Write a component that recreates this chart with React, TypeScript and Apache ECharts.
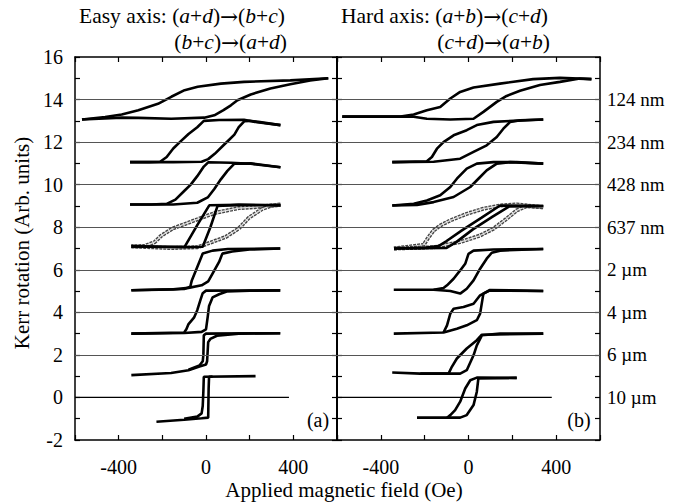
import React, { useEffect, useRef } from 'react';
import * as echarts from 'echarts';

// ---------- tick labels ----------
const xTickLabels = [-400, 0, 400];
const sizeLevels = [0, 2, 4, 6, 8, 10, 12, 14];
const sizeLabels = ['10 µm', '6 µm', '4 µm', '2 µm', '637 nm', '428 nm', '234 nm', '124 nm'];
const gridLevels = [2, 4, 6, 8, 10, 12, 14];
const zeroLine = [[-600, 0], [380, 0]];

// ---------- (a) easy axis loops: [field (Oe), Kerr (arb.)] ----------
const easy124Desc = [[560, 15.0], [386, 14.9], [174, 14.83], [68, 14.75], [-38, 14.6], [-98, 14.44], [-159, 14.13], [-220, 13.8], [-310, 13.5], [-386, 13.3], [-462, 13.18], [-568, 13.06]];
const easy124Asc = [[-568, 13.06], [-386, 13.15], [-310, 13.14], [-159, 13.1], [-8, 13.15], [38, 13.26], [80, 13.5], [114, 13.73], [144, 13.97], [205, 14.24], [295, 14.52], [386, 14.72], [477, 14.9], [560, 15.0]];
const easy234Desc = [[341, 12.8], [235, 12.93], [174, 13.05], [60, 13.04], [-10, 13.0], [-40, 12.7], [-80, 12.38], [-120, 12.0], [-150, 11.7], [-180, 11.3], [-210, 11.08], [-260, 11.06], [-348, 11.06]];
const easy234Asc = [[-348, 11.06], [-150, 11.06], [-20, 11.08], [10, 11.2], [40, 11.45], [80, 11.85], [105, 12.1], [130, 12.35], [150, 12.7], [175, 12.98], [200, 13.0], [240, 12.95], [341, 12.8]];
const easy428Desc = [[341, 10.82], [205, 10.98], [114, 11.03], [10, 11.05], [-10, 10.85], [-40, 10.4], [-70, 10.0], [-100, 9.7], [-140, 9.3], [-180, 9.1], [-250, 9.07], [-348, 9.07]];
const easy428Asc = [[-348, 9.07], [-150, 9.07], [-40, 9.15], [8, 9.4], [38, 9.8], [68, 10.25], [98, 10.65], [129, 10.98], [205, 11.0], [341, 10.82]];
const easy637FilledDesc = [[341, 9.03], [150, 9.05], [15, 9.03], [-40, 8.1], [-98, 7.08], [-200, 7.08], [-342, 7.1]];
const easy637FilledAsc = [[-342, 7.1], [-100, 7.06], [-15, 7.08], [20, 8.0], [53, 9.0], [150, 9.05], [341, 9.03]];
const easy637OpenDesc = [[341, 9.07], [220, 8.94], [150, 8.9], [44, 8.68], [-32, 8.4], [-92, 8.17], [-153, 7.94], [-205, 7.6], [-235, 7.3], [-280, 7.12], [-342, 7.1]];
const easy637OpenAsc = [[-342, 7.1], [-159, 7.02], [-38, 7.06], [0, 7.2], [90, 7.54], [150, 7.94], [197, 8.45], [256, 8.85], [295, 9.0], [341, 9.05]];
const easy2umAsc = [[-342, 5.04], [-150, 5.08], [-80, 5.15], [-20, 5.27], [10, 5.45], [30, 5.82], [60, 6.37], [75, 6.76], [120, 6.86], [200, 6.95], [340, 7.0]];
const easy2umDesc = [[340, 7.0], [100, 6.98], [30, 6.9], [-15, 6.76], [-45, 6.0], [-65, 5.5], [-72, 5.2], [-100, 5.1], [-342, 5.04]];
const easy4umAsc = [[-342, 3.0], [-100, 3.03], [-20, 3.08], [0, 3.2], [8, 3.8], [14, 4.3], [30, 4.7], [60, 4.85], [95, 4.98], [200, 5.02], [340, 5.03]];
const easy4umDesc = [[340, 5.03], [0, 5.02], [-15, 4.9], [-25, 4.6], [-40, 4.1], [-55, 3.75], [-80, 3.45], [-90, 3.2], [-100, 3.05], [-342, 3.0]];
const easy6umAsc = [[-342, 1.05], [-160, 1.15], [-80, 1.28], [-30, 1.45], [0, 1.55], [5, 1.7], [10, 2.6], [20, 2.75], [50, 2.9], [150, 3.0], [340, 3.02]];
const easy6umDesc = [[340, 3.02], [0, 3.0], [-10, 2.92], [-12, 2.0], [-15, 1.7], [-30, 1.5], [-80, 1.3]];
const easy10umAsc = [[-227, -1.14], [-100, -1.05], [-20, -0.98], [10, -0.95], [12, 0.4], [14, 0.97], [30, 0.98]];
const easy10umDesc = [[227, 1.0], [-10, 0.97], [-12, 0.3], [-15, -0.4], [-20, -0.75], [-40, -0.9], [-100, -1.0]];

// ---------- (b) hard axis loops ----------
const hard124Desc = [[561, 14.96], [417, 15.02], [295, 14.96], [144, 14.75], [23, 14.57], [-38, 14.36], [-83, 14.05], [-129, 13.65], [-190, 13.5], [-250, 13.3], [-310, 13.2], [-576, 13.2]];
const hard124Asc = [[-576, 13.2], [-258, 13.2], [-190, 13.1], [-83, 13.06], [23, 13.1], [68, 13.42], [129, 13.89], [174, 14.17], [235, 14.41], [326, 14.68], [417, 14.83], [508, 14.99], [561, 14.96]];
const hard234Desc = [[341, 13.06], [205, 13.0], [114, 12.95], [38, 12.8], [-8, 12.56], [-68, 12.32], [-114, 12.0], [-144, 11.69], [-167, 11.3], [-190, 11.1], [-348, 11.06]];
const hard234Asc = [[-348, 11.06], [-159, 11.08], [-38, 11.22], [23, 11.54], [83, 11.85], [129, 12.24], [159, 12.63], [190, 12.95], [235, 13.03], [341, 13.06]];
const hard428Desc = [[341, 10.99], [220, 11.06], [114, 11.06], [38, 10.99], [-8, 10.75], [-53, 10.28], [-83, 9.89], [-129, 9.5], [-190, 9.26], [-250, 9.1], [-348, 9.02]];
const hard428Asc = [[-348, 9.02], [-235, 9.05], [-159, 9.18], [-68, 9.42], [8, 9.89], [53, 10.36], [83, 10.67], [129, 10.99], [190, 11.06], [341, 10.99]];
const hard637OpenDesc = [[341, 8.94], [220, 9.07], [144, 9.02], [68, 8.87], [-8, 8.63], [-83, 8.32], [-129, 8.08], [-159, 7.85], [-182, 7.53], [-205, 7.17], [-340, 7.0]];
const hard637OpenAsc = [[-340, 7.0], [-159, 7.06], [-38, 7.3], [53, 7.61], [114, 7.93], [174, 8.4], [220, 8.79], [265, 8.99], [341, 8.94]];
const hard637FilledDesc = [[341, 9.0], [144, 9.02], [60, 8.45], [-30, 7.85], [-100, 7.35], [-135, 7.12], [-200, 7.03], [-340, 7.0]];
const hard637FilledAsc = [[-340, 7.0], [-100, 7.03], [-56, 7.3], [20, 7.9], [110, 8.5], [186, 8.98], [341, 9.0]];
const hard2umAsc = [[-341, 5.06], [-159, 5.06], [-83, 5.0], [-38, 4.88], [-8, 5.11], [23, 5.5], [53, 6.05], [83, 6.52], [106, 6.8], [144, 6.9], [341, 6.98]];
const hard2umDesc = [[341, 6.98], [114, 6.95], [23, 6.9], [0, 6.75], [-15, 6.28], [-38, 5.97], [-68, 5.58], [-98, 5.27], [-114, 5.14], [-159, 5.06]];
const hard4umAsc = [[-341, 3.0], [-114, 3.05], [-53, 3.23], [-8, 3.39], [38, 3.63], [53, 3.94], [68, 4.88], [98, 5.03], [341, 5.0]];
const hard4umDesc = [[341, 5.0], [98, 5.05], [53, 4.8], [23, 4.4], [-23, 4.25], [-68, 4.17], [-83, 3.94], [-98, 3.39], [-114, 3.05]];
const hard6umAsc = [[-348, 1.17], [-220, 1.12], [-38, 1.12], [-8, 1.28], [23, 1.98], [38, 2.45], [61, 2.92], [144, 3.0], [341, 3.0]];
const hard6umDesc = [[341, 3.0], [61, 2.95], [38, 2.69], [-8, 2.3], [-53, 1.83], [-76, 1.44], [-91, 1.12], [-220, 1.12]];
const hard10umAsc = [[-235, -0.95], [-38, -0.95], [-8, -0.83], [23, -0.36], [38, 0.27], [45, 0.89], [220, 0.92]];
const hard10umDesc = [[220, 0.92], [38, 0.93], [8, 0.81], [-15, 0.42], [-38, -0.2], [-61, -0.6], [-83, -0.83], [-98, -0.95]];

const easyFilled = [easy124Desc, easy124Asc, easy234Desc, easy234Asc, easy428Desc, easy428Asc, easy637FilledDesc, easy637FilledAsc, easy2umAsc, easy2umDesc, easy4umAsc, easy4umDesc, easy6umAsc, easy6umDesc, easy10umAsc, easy10umDesc];
const easyOpen = [easy637OpenDesc, easy637OpenAsc];
const hardFilled = [hard124Desc, hard124Asc, hard234Desc, hard234Asc, hard428Desc, hard428Asc, hard637FilledDesc, hard637FilledAsc, hard2umAsc, hard2umDesc, hard4umAsc, hard4umDesc, hard6umAsc, hard6umDesc, hard10umAsc, hard10umDesc];
const hardOpen = [hard637OpenDesc, hard637OpenAsc];

const FONT = '"Liberation Serif", "Times New Roman", serif';
const FS = 20;
const FS_SIDE = 19;
const FS_TITLE = 21;
const FS_HEAD = 21.5;

function xAxes(grid: number) {
  const common = {
    gridIndex: grid,
    type: 'value',
    min: -600,
    max: 600,
    interval: 200,
    axisLine: { show: true, onZero: false, lineStyle: { color: '#000', width: 1.5 } },
    axisTick: { show: true, inside: true, length: 5, lineStyle: { color: '#000', width: 1.2 } },
    splitLine: { show: false },
  };
  return [
    {
      ...common,
      position: 'bottom',
      axisLabel: {
        show: true,
        margin: 17,
        color: '#000',
        fontFamily: FONT,
        fontSize: FS,
        formatter: (v: number) => (xTickLabels.includes(v) ? String(v) : ''),
      },
    },
    { ...common, position: 'top', axisLabel: { show: false } },
  ];
}

function yAxis(grid: number, position: string, labels: 'num' | 'size' | 'none', lineWidth: number) {
  return {
    gridIndex: grid,
    type: 'value',
    position,
    min: -2,
    max: 16,
    interval: 2,
    axisLine: { show: true, onZero: false, lineStyle: { color: '#000', width: lineWidth } },
    axisTick: { show: true, inside: true, length: 5, lineStyle: { color: '#000', width: 1.2 } },
    minorTick: { show: true, splitNumber: 2, length: 5, lineStyle: { color: '#000', width: 1.2 } },
    splitLine: { show: false },
    axisLabel: {
      show: labels !== 'none',
      margin: labels === 'size' ? 7 : 12,
      color: '#000',
      fontFamily: FONT,
      fontSize: labels === 'size' ? FS_SIDE : FS,
      formatter: (v: number) => {
        if (labels === 'num') return String(v);
        const i = sizeLevels.indexOf(v);
        return i >= 0 ? sizeLabels[i] : '';
      },
    },
  };
}

function lineSeries(data: number[][], xi: number, yi: number) {
  return {
    type: 'line',
    xAxisIndex: xi,
    yAxisIndex: yi,
    data,
    showSymbol: false,
    symbol: 'none',
    lineStyle: { color: '#000', width: 2.6 },
    silent: true,
    z: 4,
  };
}

// open-circle curves: dark outer stroke with a light core, like a string of hollow circles
function openSeries(data: number[][], xi: number, yi: number) {
  return [
    {
      type: 'line',
      xAxisIndex: xi,
      yAxisIndex: yi,
      data,
      showSymbol: false,
      symbol: 'none',
      lineStyle: { color: '#444', width: 4, type: [3, 1] },
      silent: true,
      z: 3,
    },
    {
      type: 'line',
      xAxisIndex: xi,
      yAxisIndex: yi,
      data,
      showSymbol: false,
      symbol: 'none',
      lineStyle: { color: '#ddd', width: 1.3 },
      silent: true,
      z: 3,
    },
  ];
}

function zeroSeries(xi: number, yi: number) {
  return {
    type: 'line',
    xAxisIndex: xi,
    yAxisIndex: yi,
    data: zeroLine,
    showSymbol: false,
    symbol: 'none',
    lineStyle: { color: '#000', width: 1.3 },
    silent: true,
    z: 2,
    markLine: {
      silent: true,
      symbol: ['none', 'none'],
      label: { show: false },
      lineStyle: { color: '#555', width: 1.2, type: 'solid' },
      data: gridLevels.map((v) => ({ yAxis: v })),
    },
  };
}

const rich = {
  n: { fontFamily: FONT, fontSize: FS_HEAD, fill: '#000' },
  i: { fontFamily: FONT, fontSize: FS_HEAD, fontStyle: 'italic', fill: '#000' },
  r: { fontFamily: '"DejaVu Serif", serif', fontSize: FS_HEAD, fill: '#000' },
};

function titleText(text: string, x: number, y: number, align: string) {
  return {
    type: 'text',
    x,
    y,
    style: { text, rich, textAlign: align, textVerticalAlign: 'middle', fontFamily: FONT, fontSize: FS_HEAD, fill: '#000' },
  };
}

export default function App() {
  const ref = useRef<HTMLDivElement>(null);
  useEffect(() => {
    const chart = echarts.init(ref.current!, null, { renderer: 'svg' });
    const option: any = {
      animation: false,
      backgroundColor: '#fff',
      grid: [
        { left: 75, top: 57, width: 262, height: 383 },
        { left: 337, top: 57, width: 263, height: 383 },
      ],
      xAxis: [...xAxes(0), ...xAxes(1)],
      yAxis: [
        yAxis(0, 'left', 'num', 1.5),
        yAxis(0, 'right', 'none', 2),
        yAxis(1, 'left', 'none', 2),
        yAxis(1, 'right', 'size', 1.5),
      ],
      series: [
        zeroSeries(0, 0),
        zeroSeries(2, 2),
        ...easyFilled.map((d) => lineSeries(d, 0, 0)),
        ...easyOpen.flatMap((d) => openSeries(d, 0, 0)),
        ...hardFilled.map((d) => lineSeries(d, 2, 2)),
        ...hardOpen.flatMap((d) => openSeries(d, 2, 2)),
      ],
      graphic: [
        titleText('{n|Easy axis: (}{i|a}{n|+}{i|d}{n|)}{r|→}{n|(}{i|b}{n|+}{i|c}{n|)}', 79, 16, 'left'),
        titleText('{n|(}{i|b}{n|+}{i|c}{n|)}{r|→}{n|(}{i|a}{n|+}{i|d}{n|)}', 287, 42, 'right'),
        titleText('{n|Hard axis: (}{i|a}{n|+}{i|b}{n|)}{r|→}{n|(}{i|c}{n|+}{i|d}{n|)}', 341, 16, 'left'),
        titleText('{n|(}{i|c}{n|+}{i|d}{n|)}{r|→}{n|(}{i|a}{n|+}{i|b}{n|)}', 550, 42, 'right'),
        {
          type: 'text',
          x: 318,
          y: 420,
          style: { text: '(a)', textAlign: 'center', textVerticalAlign: 'middle', fontFamily: FONT, fontSize: FS, fill: '#000' },
        },
        {
          type: 'text',
          x: 579,
          y: 420,
          style: { text: '(b)', textAlign: 'center', textVerticalAlign: 'middle', fontFamily: FONT, fontSize: FS, fill: '#000' },
        },
        {
          type: 'text',
          x: 344,
          y: 490,
          style: { text: 'Applied magnetic field (Oe)', textAlign: 'center', textVerticalAlign: 'middle', fontFamily: FONT, fontSize: FS_TITLE, fill: '#000' },
        },
        {
          type: 'text',
          x: 22,
          y: 243,
          rotation: Math.PI / 2,
          style: { text: 'Kerr rotation (Arb. units)', textAlign: 'center', textVerticalAlign: 'middle', fontFamily: FONT, fontSize: FS_TITLE, fill: '#000' },
        },
      ],
    };
    chart.setOption(option);
    return () => chart.dispose();
  }, []);
  return <div ref={ref} style={{ position: 'absolute', left: 0, top: 0, width: 688, height: 504 }} />;
}
